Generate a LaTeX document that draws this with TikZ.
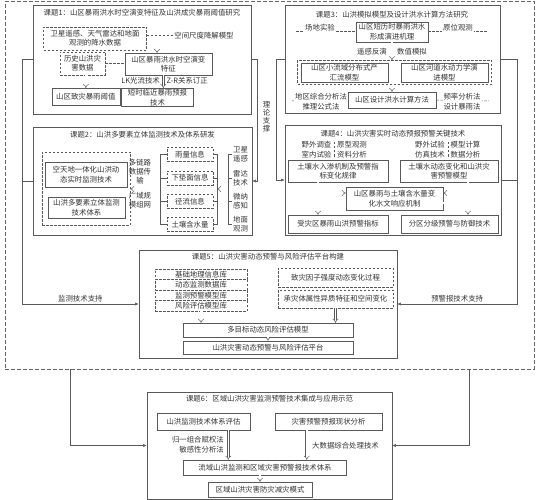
\documentclass[tikz,border=0pt]{standalone}
\usepackage{fontspec}
\setmainfont{Noto Sans CJK SC}
\usetikzlibrary{arrows.meta}

\tikzset{
  every node/.style={font=\fontsize{7.4}{9.6}\selectfont, text=black!80},
  topic/.style={draw=black!65, line width=0.6pt},
  box/.style={draw=black!65, fill=white, align=center, inner sep=0.8pt, line width=0.5pt},
  dbox/.style={box, dash pattern=on 2.5pt off 1.5pt},
  lbl/.style={align=center, inner sep=1pt},
  dline/.style={draw=black!65, line width=0.5pt, dash pattern=on 2.5pt off 1.5pt},
  sline/.style={draw=black!65, line width=0.5pt},
  dbl/.style={draw=black!65, line width=0.45pt, double, double distance=1.6pt, -{Implies}},
  arr/.style={sline, -{Latex[length=3.5pt,width=3pt]}},
  sz/.style 2 args={minimum width=#1pt, minimum height=#2pt},
}

\begin{document}
\begin{tikzpicture}[x=1pt, y=-1pt]
  \useasboundingbox (0,0) rectangle (538,500);

  % frames
  \node[draw=black!60, line width=0.5pt, dash pattern=on 4pt off 2pt, sz={529}{367.5}] (outer) at (269.5,185.25) {};
  \node[topic, sz={218}{109}] (t1) at (142,59.5) {};
  \node[topic, sz={219}{108}] (t2) at (142.5,181) {};
  \node[topic, sz={215}{108}] (t3) at (392.5,59) {};
  \node[topic, sz={216}{110}] (t4) at (393,180) {};
  \node[topic, sz={258}{108}] (t5) at (268,304) {};
  \node[topic, sz={245}{107}] (t6) at (269.5,445.5) {};

  % links between topics
  \coordinate (lturn) at (22,304);
  \coordinate (rturn) at (517,304);
  \draw[arr] (t1.west) -| (lturn) -- (t5.west) node[lbl, midway, above=1pt] (w1) {监测技术支持};
  \draw[sline] (t2.west) -- (t2.west -| lturn);
  \draw[arr] (t3.east) -| (rturn) -- (t5.east) node[lbl, midway, above=1pt] (w2) {预警报技术支持};
  \draw[sline] (t4.east) -- (t4.east -| rturn);
  \draw[arr] (t1.east) -- ++(6,0) |- (t2.east);
  \draw[arr] (t3.west) -- ++(-8,0) |- (t4.west);
  \node[lbl, font=\fontsize{7.4}{8}\selectfont] (th) at (266.5,117) {理\\论\\支\\撑};
  \coordinate (bl) at (70,369);
  \coordinate (br) at (469,369);
  \draw[arr] (bl) |- (t6.west);
  \draw[arr] (br) |- (t6.east);

  % topic 1
  \node[lbl] (h1) at (142,13) {课题1：山区暴雨洪水时空演变特征及山洪成灾暴雨阈值研究};
  \node[dbox, sz={103}{23}] (d1) at (95,38.3) {卫星遥感、天气雷达和地面\\观测的降水数据};
  \node[lbl] (m1) at (204,35.7) {空间尺度降解模型};
  \node[dbox, sz={45}{23}] (d2) at (82.5,63.3) {历史山洪灾\\害数据};
  \node[box, sz={87}{22}] (b1) at (168.3,64.2) {山区暴雨洪水时空演变\\特征};
  \node[box, sz={68}{17}] (b2) at (85.8,96.7) {山区致灾暴雨阈值};
  \node[box, sz={72}{18.5}] (b3) at (157.5,97.5) {短时临近暴雨预报\\技术};
  \draw[dline] (d1.east |- m1.west) -- (m1.west);
  \coordinate (j1) at (157,35.7);
  \draw[dbl] (j1) -- (j1 |- b1.north);
  \draw[dline] (d2.east) -- (d2.east -| b1.west);
  \draw[dbl] (d2.south -| b2.north) -- (b2.north);
  \coordinate (j2) at (163.3,75);
  \draw[dbl] (j2 |- b1.south) -- (j2 |- b3.north);
  \node[lbl, anchor=east] (lk) at (161,80.5) {LK光流技术};
  \node[lbl, anchor=west] (zr) at (165.5,80.5) {Z-R关系订正};

  % topic 2
  \node[lbl] (h2) at (142.5,135) {课题2：山洪多要素立体监测技术及体系研发};
  \node[dbox, fill=none, sz={88}{73}] (g2) at (86,188.5) {};
  \node[box, sz={82}{25}] (b4) at (86,174.5) {空天地一体化山洪动\\态实时监测技术};
  \node[box, sz={77}{21}] (b5) at (86.5,207.5) {山洪多要素立体监测\\技术体系};
  \node[lbl, font=\fontsize{7.4}{9}\selectfont] (n1) at (140,172) {多链路\\数据传\\输};
  \node[lbl, font=\fontsize{7.4}{9}\selectfont] (n2) at (140,200.5) {广域规\\模组网};
  \foreach \txt [count=\i] in {雨量信息,下垫面信息,径流信息,土壤含水量}
    \node[dbox, sz={46}{14}] (i\i) at (190,131+23.4*\i) {\txt};
  \foreach \txt [count=\i] in {{卫星\\遥感},{雷达\\技术},{微纳\\感知},{地面\\观测}}
    \node[lbl, font=\fontsize{7.4}{9}\selectfont] (r\i) at (240.5,131+23.4*\i) {\txt};
  \coordinate (bk1) at (160,189);
  \coordinate (bk2) at (217,189);
  \coordinate (bk3) at (228,189);
  \draw[sline] (bk1 |- i1.west) -- (bk1 |- i4.west);
  \draw[sline] (bk2 |- i1.east) -- (bk2 |- i4.east);
  \draw[sline] (bk3 |- r1.west) -- (bk3 |- r4.west);
  \foreach \i in {1,...,4}{
    \draw[sline] (bk1 |- i\i.west) -- (i\i.west);
    \draw[sline] (i\i.east) -- (bk2 |- i\i.east);
    \draw[sline] (bk3 |- r\i.west) -- (r\i.west);
  }
  \draw[dbl] (bk1) -- (bk1 -| g2.east);
  \draw[dbl] (bk3) -- (bk2);

  % topic 3
  \node[lbl] (h3) at (392,15) {课题3：山洪模拟模型及设计洪水计算方法研究};
  \node[box, sz={72}{20}] (c1) at (392,32) {山区短历时暴雨洪水\\形成演进机理};
  \node[dbox, fill=none, sz={194}{24}] (g3) at (394.5,72.5) {};
  \node[box, sz={87}{19}] (c2) at (344.5,72.5) {山区小流域分布式产\\汇流模型};
  \node[box, sz={87}{19}] (c3) at (444.5,72.5) {山区河道水动力学演\\进模型};
  \node[box, sz={88}{16}] (c4) at (392,100) {山区设计洪水计算方法};
  \coordinate (s3l) at (296,31);
  \coordinate (s3r) at (488,31);
  \draw[dline] (s3l) -- (c1.west |- s3l);
  \draw[dline] (c1.east |- s3r) -- (s3r);
  \node[lbl, fill=white] (u1) at (320,27.5) {场地实验};
  \node[lbl, fill=white] (u2) at (458,27.5) {原位观测};
  \draw[dbl] (c1.south) -- (c1.south |- g3.north);
  \draw[dbl] (c4.north |- g3.south) -- (c4.north);
  \node[lbl, anchor=east] (u3) at (388,52) {遥感反演};
  \node[lbl, anchor=west] (u4) at (396,52) {数值模拟};
  \coordinate (s3a) at (292,101);
  \coordinate (s3b) at (489,101);
  \draw[dline] (s3a) -- (c4.west);
  \draw[dline] (c4.east) -- (s3b);
  \node[lbl, fill=white] (u5) at (321,101.5) {地区综合分析法\\推理公式法};
  \node[lbl, fill=white] (u6) at (462,101.5) {频率分析法\\设计暴雨法};

  % topic 4
  \node[lbl] (h4) at (393,134) {课题4：山洪灾害实时动态预报预警关键技术};
  \node[lbl] (q1) at (316.5,149.7) {野外调查\\室内试验};
  \node[lbl] (q2) at (352,149.7) {原型观测\\资料分析};
  \node[lbl] (q3) at (430,149.7) {野外试验\\仿真技术};
  \node[lbl] (q4) at (465.5,149.7) {模型计算\\数据分析};
  \draw[dline] (334.5,142) -- (334.5,158);
  \draw[dline] (447.8,142) -- (447.8,158);
  \node[box, sz={100}{22}] (e1) at (338,171) {土壤水入渗机制及预警指\\标变化规律};
  \node[box, sz={98}{22}] (e2) at (449,171) {土壤水动态变化和山洪灾\\害预警模型};
  \node[box, sz={97}{23}] (e3) at (394.5,198.5) {山区暴雨与土壤含水量变\\化水文响应机制};
  \node[box, sz={100}{18}] (e4) at (338,224) {受灾区暴雨山洪预警指标};
  \node[box, sz={97}{18}] (e5) at (449.5,224) {分区分级预警与防御技术};
  \draw[dbl] ([xshift=-20pt]e1.south) |- ([yshift=5.5pt]e3.west);
  \draw[dbl] ([xshift=19pt]e2.south) |- ([yshift=5.5pt]e3.east);
  \draw[dbl] ([yshift=-4.5pt]e3.west) -| ([xshift=-20pt]e4.north);
  \draw[dbl] ([yshift=-4.5pt]e3.east) -| ([xshift=18.5pt]e5.north);

  % topic 5
  \node[lbl] (h5) at (268,256.7) {课题5：山洪灾害动态预警与风险评估平台构建};
  \foreach \txt [count=\i] in {基础地理信息库,动态监测数据库,监测预警模型库,风险评估模型库}
    \node[dbox, sz={92}{10.5}, inner sep=0pt] (db\i) at (201,263.75+10.5*\i) {\txt};
  \node[dbox, sz={115}{19}] (f1) at (335.5,277.5) {致灾因子强度动态变化过程};
  \node[dbox, sz={115}{18}] (f2) at (335.5,299) {承灾体属性异质特征和空间变化};
  \node[box, sz={170}{14}] (f3) at (268,330) {多目标动态风险评估模型};
  \node[box, sz={170}{13}] (f4) at (268,347.5) {山洪灾害动态预警与风险评估平台};
  \draw[dbl] (db4.south) -- (db4.south |- f3.north);
  \draw[dbl] (f2.south) -- (f2.south |- f3.north);
  \draw[dbl] (f3.south) -- (f4.north);

  % topic 6
  \node[lbl] (h6) at (269.5,399) {课题6：区域山洪灾害监测预警技术集成与应用示范};
  \node[box, sz={93}{17}] (g61) at (203.5,421.5) {山洪监测技术体系评估};
  \node[box, sz={107}{17}] (g62) at (328.5,421.5) {灾害预警预报现状分析};
  \node[box, sz={163}{15}] (g63) at (265,467.5) {流域山洪监测和区域灾害预警报技术体系};
  \node[box, sz={104}{15}] (g64) at (260,489.5) {区域山洪灾害防灾减灾模式};
  \coordinate (j6a) at (228.3,430);
  \coordinate (j6b) at (306.7,430);
  \draw[dbl] (j6a |- g61.south) -- (j6a |- g63.north);
  \draw[dbl] (j6b |- g62.south) -- (j6b |- g63.north);
  \draw[dbl] (g64.north |- g63.south) -- (g64.north);
  \node[lbl, align=right, anchor=east] (l6a) at (225,444.7) {归一组合赋权法\\敏感性分析法};
  \node[lbl, anchor=west] (l6b) at (311,445.7) {大数据综合处理技术};
\end{tikzpicture}
\end{document}
